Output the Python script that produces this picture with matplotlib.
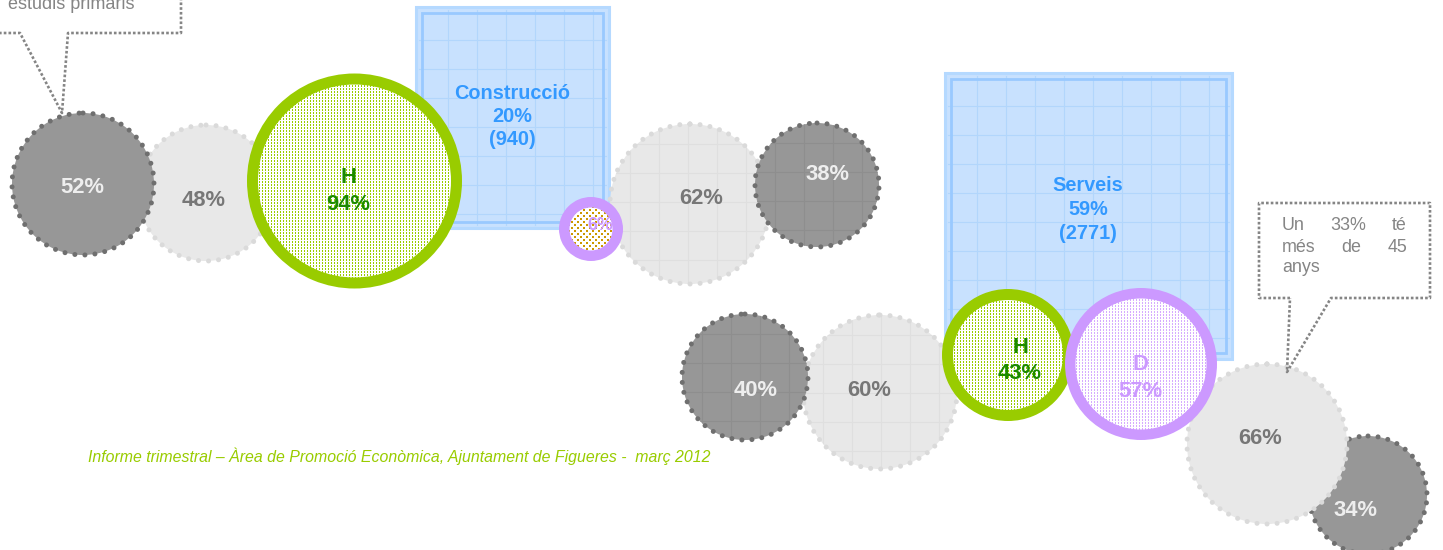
import numpy as np
import matplotlib
matplotlib.use('Agg')
import matplotlib.pyplot as plt
from matplotlib.patches import Circle, Wedge, Rectangle

plt.rcParams['font.family'] = ['Liberation Sans', 'DejaVu Sans']

# ---- data ----
grey_pct = [52, 48, 62, 38, 40, 60, 66, 34]
grey_dark = [True, False, False, True, True, False, False, True]
sector_names = ['Construcció', 'Serveis']
sector_pct = [20, 59]
sector_count = [940, 2771]
men_pct = [94, 43]
women_pct = [6, 57]
note_left = 'estudis primaris'
note_right = [['Un', '33%', 'té'], ['més', 'de', '45'], ['anys']]
footer = 'Informe trimestral – Àrea de Promoció Econòmica, Ajuntament de Figueres -  març 2012'

# ---- layout (pixel units, y pointing down) ----
grey_xy = [(83, 184), (206, 193), (690, 204), (817, 185),
           (745, 377), (880, 392), (1267, 444), (1368, 495)]
grey_r = [71, 68, 80, 62, 63, 77, 80, 59]
grey_txt = [(82, 185), (204, 198), (701, 196), (828, 172),
            (756, 388), (869, 388), (1260, 436), (1356, 508)]
grey_z = [3, 2, 2, 3, 3, 2, 5, 4]
grey_grid = [False, False, True, True, True, True, False, False]

box_rect = [(416, 7, 193, 221), (945, 73, 287, 286)]
box_txt = [(512, [92, 115, 138]), (1088, [184, 208, 232])]

men_xy = [(354.5, 181), (1008, 355)]
men_r = [107.5, 66]
men_txt = [(348, 175, 202), (1020, 345, 371)]
women_xy = [(591, 229), (1141, 364)]
women_r = [32, 76]
women_txt = [(600, None, 224), (1140, 362, 389)]

DARK, DARK_DOT, LIGHT, LIGHT_DOT = '#979797', '#6f6f6f', '#e8e8e8', '#dadada'
GREEN, DKGREEN, PURPLE, BLUE = '#99cc00', '#1b8a00', '#cc99ff', '#3399ff'
BOX_FILL, BOX_GRID, BOX_EDGE = '#c8e1fe', '#b2d6fc', '#99c9ff'
NOTE = '#858585'

fig = plt.figure(figsize=(14.43, 5.5), dpi=100)
ax = fig.add_axes([0, 0, 1, 1])


def label(x, yc, s, size, color, weight='bold'):
    px = size * 100 / 72
    ax.text(x, yc + 0.36 * px, s, ha='center', va='baseline', fontsize=size,
            color=color, fontweight=weight, zorder=20)


def texture(cx, cy, r, color, kind, z):
    n = int(2 * r) + 2
    yy, xx = np.mgrid[0:n, 0:n]
    if kind == 'lines':
        mask = (xx % 3 == 0) & (yy % 3 != 2)
    else:
        mask = ((xx % 6 < 2) & (yy % 6 < 2)) | (((xx + 3) % 6 < 2) & ((yy + 3) % 6 < 2))
    img = np.ones((n, n, 3))
    img[mask] = matplotlib.colors.to_rgb(color)
    h = n / 2
    im = ax.imshow(img, extent=(cx - h, cx + h, cy + h, cy - h),
                   interpolation='nearest', zorder=z)
    clip = Circle((cx, cy), r, transform=ax.transData)
    im.set_clip_path(clip)


# grey circles with dotted borders
for i, pct in enumerate(grey_pct):
    cx, cy = grey_xy[i]
    r = grey_r[i]
    fill = DARK if grey_dark[i] else LIGHT
    dots = DARK_DOT if grey_dark[i] else LIGHT_DOT
    disk = Circle((cx, cy), r, facecolor=fill, edgecolor='none', zorder=grey_z[i])
    ax.add_patch(disk)
    if grey_grid[i]:
        gc = '#8e8e8e' if grey_dark[i] else '#dfdfdf'
        for g in np.arange(cx - r + 20, cx + r, 29):
            ln, = ax.plot([g, g], [cy - r, cy + r], color=gc, lw=0.8, zorder=grey_z[i])
            ln.set_clip_path(disk)
        for g in np.arange(cy - r + 20, cy + r, 29):
            ln, = ax.plot([cx - r, cx + r], [g, g], color=gc, lw=0.8, zorder=grey_z[i])
            ln.set_clip_path(disk)
    rim = Circle((cx, cy), r, fill=False, edgecolor=dots, linewidth=3.6,
                 linestyle=(0, (0.01, 2.0)), zorder=grey_z[i])
    rim.set_capstyle('round')
    ax.add_patch(rim)
    tx, ty = grey_txt[i]
    label(tx, ty, f'{pct}%', 15.8, '#eeeeee' if grey_dark[i] else '#777777')

# sector boxes
for i, name in enumerate(sector_names):
    x0, y0, w, h = box_rect[i]
    box = Rectangle((x0, y0), w, h, facecolor=BOX_FILL, edgecolor='#b5d9ff',
                    linewidth=2.2, zorder=1)
    ax.add_patch(box)
    for g in np.arange(x0 + 32, x0 + w - 3, 29):
        ax.plot([g, g], [y0 + 3, y0 + h - 3], color=BOX_GRID, lw=0.8, zorder=1)
    for g in np.arange(y0 + 33, y0 + h - 3, 29):
        ax.plot([x0 + 3, x0 + w - 3], [g, g], color=BOX_GRID, lw=0.8, zorder=1)
    ax.add_patch(Rectangle((x0 + 6, y0 + 6), w - 12, h - 12, fill=False,
                           edgecolor=BOX_EDGE, linewidth=2.0, zorder=1))
    tx, tys = box_txt[i]
    for s, ty in zip([name, f'{sector_pct[i]}%', f'({sector_count[i]})'], tys):
        label(tx, ty, s, 14.3, BLUE)

# men / women rings
for i, pct in enumerate(men_pct):
    cx, cy = men_xy[i]
    r = men_r[i]
    texture(cx, cy, r - 10, GREEN, 'lines', 6)
    ax.add_patch(Wedge((cx, cy), r, 0, 360, width=11, facecolor=GREEN,
                       edgecolor='none', zorder=6))
    tx, ty1, ty2 = men_txt[i]
    label(tx, ty1, 'H', 15.8, DKGREEN)
    label(tx, ty2, f'{pct}%', 15.8, DKGREEN)

for i, pct in enumerate(women_pct):
    cx, cy = women_xy[i]
    r = women_r[i]
    if i == 0:
        texture(cx, cy, r - 10, '#cc9900', 'dots', 7)
    else:
        texture(cx, cy, r - 9, '#d6abff', 'lines', 7)
    ax.add_patch(Wedge((cx, cy), r, 0, 360, width=10.5, facecolor=PURPLE,
                       edgecolor='none', zorder=7))
    tx, ty1, ty2 = women_txt[i]
    if ty1 is not None:
        label(tx, ty1, 'D', 15.8, PURPLE)
    label(tx, ty2, f'{pct}%', 12.8 if i == 0 else 15.8, PURPLE)

# callouts
left_path = [(-5, 33), (20, 33), (62, 113), (68, 33), (181, 33), (181, -5)]
right_path = [(1290, 298), (1259, 298), (1259, 203), (1430, 203), (1430, 298),
              (1331, 298), (1287, 372), (1290, 298)]
for path in (left_path, right_path):
    xs, ys = zip(*path)
    ax.plot(xs, ys, color=NOTE, lw=1.9, linestyle=(0, (1, 0.8)),
            solid_capstyle='butt', zorder=12)

ax.text(8, 9, note_left, ha='left', va='baseline', fontsize=13, color=NOTE, zorder=20)
note_x = [(1282, 'left'), (1348, 'center'), (1407, 'right')]
note_x2 = [(1282, 'left'), (1351, 'center'), (1407, 'right')]
for line, base, xs in zip(note_right, [230, 252, 272], [note_x, note_x2, note_x]):
    for word, (x, ha) in zip(line, xs):
        ax.text(x, base, word, ha=ha, va='baseline', fontsize=12.9, color=NOTE, zorder=20)

ax.text(88, 462, footer, ha='left', va='baseline', fontsize=11.4, style='italic',
        color=GREEN, zorder=20)

ax.set_xlim(0, 1443)
ax.set_ylim(550, 0)
ax.set_aspect('auto')
ax.axis('off')
fig.savefig('out.png', dpi=100)
